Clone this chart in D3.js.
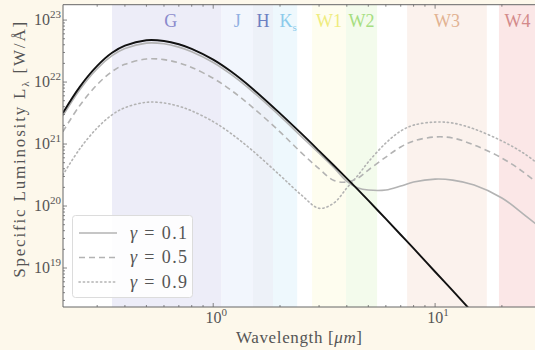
<!DOCTYPE html>
<html><head><meta charset="utf-8">
<script src="https://cdn.jsdelivr.net/npm/d3@7"></script>
<style>html,body{margin:0;padding:0;background:#fdf8eb;} svg{display:block;}</style>
</head><body><svg id="c" width="535" height="350"></svg>
<script>
// ---- data ----
const wavelengths = [0.21,0.25,0.3,0.35,0.4,0.5,0.6,0.7,0.8,1.0,1.2,1.5,2.0,2.5,3.0,3.5,4.0,4.5,5,6,7,8,10,12,15,20,25,30];
const lumStar = [3.16e21,8.30e21,1.82e22,2.96e22,3.86e22,4.72e22,4.60e22,4.07e22,3.43e22,2.30e22,1.49e22,7.89e21,3.13e21,1.47e21,7.77e20,4.50e20,2.79e20,1.82e20,1.23e20,6.19e19,3.44e19,2.07e19,8.71e18,4.31e18,1.80e18,5.87e17];
const lumGamma01 = [2.84e21,7.47e21,1.64e22,2.66e22,3.47e22,4.25e22,4.14e22,3.66e22,3.09e22,2.07e22,1.34e22,7.10e21,2.82e21,1.32e21,7.10e20,4.15e20,2.50e20,1.95e20,1.81e20,1.81e20,2.10e20,2.44e20,2.72e20,2.62e20,2.18e20,1.35e20,7.43e19,4.42e19];
const lumGamma05 = [1.58e21,4.15e21,9.10e21,1.48e22,1.93e22,2.36e22,2.30e22,2.04e22,1.72e22,1.15e22,7.45e21,3.95e21,1.57e21,7.20e20,4.00e20,2.58e20,2.44e20,2.83e20,3.81e20,6.17e20,8.95e20,1.12e21,1.30e21,1.25e21,9.64e20,5.94e20,3.53e20,2.10e20];
const lumGamma09 = [3.16e20,8.30e20,1.82e21,2.96e21,3.86e21,4.72e21,4.60e21,4.07e21,3.43e21,2.30e21,1.49e21,7.89e20,3.13e20,1.50e20,9.20e19,1.12e20,1.95e20,3.16e20,5.13e20,1.04e21,1.62e21,2.02e21,2.26e21,2.18e21,1.75e21,1.12e21,7.16e20,4.42e20];
const bandNames = ["G","J","H","K","W1","W2","W3","W4"];
const bandSubs  = ["","","","s","","","",""];
const bandStart = [0.35,1.09,1.51,1.86,2.79,3.97,7.48,19.4];
const bandEnd   = [1.09,1.51,1.86,2.39,3.97,5.48,17.1,28.5];
const bandFill  = ["#ededf8","#f2f6fd","#edf1f8","#eef8fd","#fefdef","#f3fbec","#fbf2ed","#fbe7e7"];
const bandInk   = ["#8a8acc","#8fb0e2","#6c80c2","#8ccbeb","#efec7e","#a6de80","#e2b392","#d38a8a"];
const gammaLabels = ["0.1","0.5","0.9"];
const xTicks = [1,10];
const xTickExp = ["0","1"];
const yTicks = [1e19,1e20,1e21,1e22,1e23];
const yTickExp = ["19","20","21","22","23"];

// ---- layout ----
const L=63, R=535, T=4.7, B=307;
const svg = d3.select("#c");
const x = d3.scaleLog().domain([0.2104,28.2]).range([L,R]);
const y = d3.scaleLog().domain([2.35e18,1.77e23]).range([B,T]);
const serif = "'Liberation Serif','DejaVu Serif',serif";
const ink = "#555";

svg.append("defs").append("clipPath").attr("id","clip")
  .append("rect").attr("x",L).attr("y",T).attr("width",R-L).attr("height",B-T);

svg.append("rect").attr("x",L).attr("y",T).attr("width",R-L).attr("height",B-T).attr("fill","#fff");

const g = svg.append("g").attr("clip-path","url(#clip)");
const bands = bandNames.map((n,i)=>({n,s:bandSubs[i],a:bandStart[i],b:bandEnd[i],f:bandFill[i],c:bandInk[i]}));
g.selectAll("rect.band").data(bands).join("rect").attr("class","band")
  .attr("x",d=>x(d.a)).attr("width",d=>x(d.b)-x(d.a))
  .attr("y",T).attr("height",B-T).attr("fill",d=>d.f);

const labs = svg.selectAll("text.bl").data(bands).join("text").attr("class","bl")
  .attr("x",d=>(x(d.a)+x(d.b))/2 + (d.n==="G"?4:(d.s?3:0)))
  .attr("y",27).attr("text-anchor","middle")
  .attr("font-family",serif).attr("font-size",18).attr("fill",d=>d.c);
labs.append("tspan").text(d=>d.n);
labs.filter(d=>d.s).append("tspan").attr("font-size",11).attr("dy",4).text(d=>d.s);

// curves
const line = d3.line().x(d=>x(d[0])).y(d=>y(d[1])).curve(d3.curveCatmullRom.alpha(0.5));
const mk = arr => arr.map((v,i)=>[wavelengths[i],v]);
const grey = "#b3b3b3";
g.append("path").attr("d",line(mk(lumGamma09))).attr("fill","none").attr("stroke",grey).attr("stroke-width",1.6).attr("stroke-dasharray","1.3,3").attr("stroke-linecap","round");
g.append("path").attr("d",line(mk(lumGamma05))).attr("fill","none").attr("stroke",grey).attr("stroke-width",1.6).attr("stroke-dasharray","6,4");
g.append("path").attr("d",line(mk(lumGamma01))).attr("fill","none").attr("stroke",grey).attr("stroke-width",1.6);
g.append("path").attr("d",line(mk(lumStar))).attr("fill","none").attr("stroke","#111").attr("stroke-width",1.9);

// frame
svg.append("path").attr("d",`M${R+2},${T}H${L}V${B}H${R+2}`).attr("fill","none").attr("stroke","#666").attr("stroke-width",1);

// ticks (inward)
const xMinor=[], yMinor=[];
[0.1,1,10].forEach(dec=>{for(let k=2;k<=9;k++){const v=k*dec; if(v>=x.domain()[0]&&v<=x.domain()[1]) xMinor.push(v);}});
[1e18,1e19,1e20,1e21,1e22,1e23].forEach(dec=>{for(let k=2;k<=9;k++){const v=k*dec; if(v>=y.domain()[0]&&v<=y.domain()[1]) yMinor.push(v);}});
const tk = svg.append("g").attr("stroke","#666").attr("stroke-width",0.8);
xTicks.forEach(v=>{tk.append("line").attr("x1",x(v)).attr("x2",x(v)).attr("y1",B).attr("y2",B-4);tk.append("line").attr("x1",x(v)).attr("x2",x(v)).attr("y1",T).attr("y2",T+4);});
xMinor.forEach(v=>{tk.append("line").attr("x1",x(v)).attr("x2",x(v)).attr("y1",B).attr("y2",B-2);tk.append("line").attr("x1",x(v)).attr("x2",x(v)).attr("y1",T).attr("y2",T+2);});
yTicks.forEach(v=>tk.append("line").attr("x1",L).attr("x2",L+4).attr("y1",y(v)).attr("y2",y(v)));
yMinor.forEach(v=>tk.append("line").attr("x1",L).attr("x2",L+2).attr("y1",y(v)).attr("y2",y(v)));

// tick labels
xTicks.forEach((v,i)=>{
  const t=svg.append("text").attr("x",x(v)+3).attr("y",323).attr("text-anchor","middle").attr("font-family",serif).attr("font-size",16).attr("fill",ink);
  t.append("tspan").text("10"); t.append("tspan").attr("dy",-7).attr("font-size",11).text(xTickExp[i]);
});
yTicks.forEach((v,i)=>{
  const t=svg.append("text").attr("x",L-2).attr("y",y(v)+5).attr("text-anchor","end").attr("font-family",serif).attr("font-size",16).attr("fill",ink);
  t.append("tspan").text("10"); t.append("tspan").attr("dy",-7).attr("font-size",11).text(yTickExp[i]);
});

// axis labels
const xl = svg.append("text").attr("x",(L+R)/2).attr("y",343).attr("text-anchor","middle").attr("font-family",serif).attr("font-size",17).attr("fill",ink)
  .attr("textLength",126).attr("lengthAdjust","spacing");
xl.append("tspan").text("Wavelength ["); xl.append("tspan").attr("font-style","italic").text("μm"); xl.append("tspan").text("]");
const yl = svg.append("text").attr("transform",`translate(25,${(T+B)/2-6}) rotate(-90)`).attr("text-anchor","middle").attr("font-family",serif).attr("font-size",17).attr("fill",ink)
  .attr("textLength",256).attr("lengthAdjust","spacing");
yl.append("tspan").text("Specific Luminosity L"); yl.append("tspan").attr("font-size",11).attr("dy",4).text("λ"); yl.append("tspan").attr("dy",-4).text(" [W/Å]");

// legend
const lg = svg.append("g");
lg.append("rect").attr("x",72.5).attr("y",215.5).attr("width",120).attr("height",82).attr("rx",3)
  .attr("fill","#fff").attr("fill-opacity",0.85).attr("stroke","#dcdcdc");
const dashes = [null,"6,4","1.3,3"];
gammaLabels.forEach((lab,i)=>{
  const yy = 233 + i*24.5;
  lg.append("line").attr("x1",79).attr("x2",117).attr("y1",yy).attr("y2",yy).attr("stroke",grey).attr("stroke-width",1.6)
    .attr("stroke-dasharray",dashes[i]).attr("stroke-linecap",i===2?"round":"butt");
  const t = lg.append("text").attr("x",130).attr("y",yy+5.5).attr("font-family",serif).attr("font-size",18).attr("fill",ink)
    .attr("textLength",57).attr("lengthAdjust","spacing");
  t.append("tspan").attr("font-style","italic").text("γ"); t.append("tspan").text(" = "+lab);
});
</script></body></html>
